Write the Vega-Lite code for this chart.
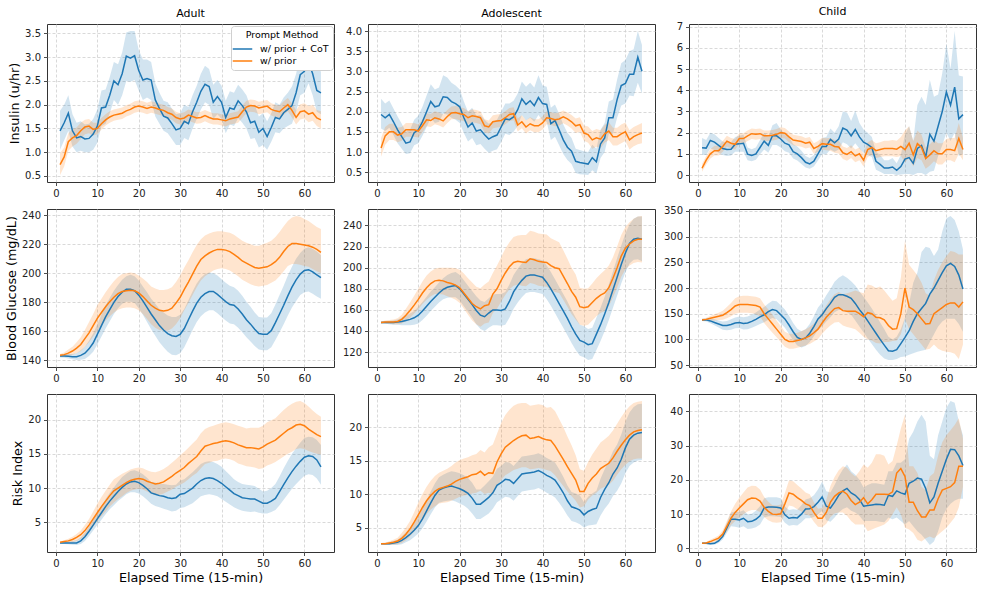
{
"$schema": "https://vega.github.io/schema/vega-lite/v6.json",
"padding": {"left": 4, "top": 5, "right": 5, "bottom": 5},
"config": {
 "font": "DejaVu Sans",
 "view": {"stroke": "#333333", "strokeWidth": 1},
 "axis": {"labelFont": "DejaVu Sans", "labelFontSize": 10, "labelColor": "#222222", "tickColor": "#222222", "tickSize": 3.5, "tickWidth": 0.8, "labelPadding": 3, "domain": false, "gridColor": "#cfcfcf", "gridDash": [3, 2], "gridWidth": 0.8, "titleFont": "DejaVu Sans", "titleFontSize": 12.75, "titleFontWeight": "normal", "titleColor": "#000000", "titlePadding": 3},
 "title": {"font": "DejaVu Sans", "fontSize": 11, "fontWeight": "normal", "color": "#000000", "offset": 5},
 "legend": {"orient": "none", "legendX": 184, "legendY": 2, "fillColor": "#ffffff", "strokeColor": "#d0d0d0", "cornerRadius": 3, "padding": 4, "titleFont": "DejaVu Sans", "titleFontSize": 9.5, "titleFontWeight": "normal", "titleColor": "#000000", "titleAnchor": "middle", "titleAlign": "center", "titlePadding": 2, "labelFont": "DejaVu Sans", "labelFontSize": 9.5, "labelColor": "#000000", "labelOffset": 10, "symbolType": "M-1.5,0L1.5,0", "symbolSize": 169, "symbolStrokeWidth": 1.5, "rowPadding": 0}
},
"datasets": {
"ai": [
{"t":1,"m1":1.45,"l1":1.05,"h1":1.87,"m2":0.74,"l2":0.52,"h2":0.98},
{"t":2,"m1":1.62,"l1":1.25,"h1":2.0,"m2":0.9,"l2":0.7,"h2":1.1},
{"t":3,"m1":1.82,"l1":1.45,"h1":2.2,"m2":1.22,"l2":1.03,"h2":1.4},
{"t":4,"m1":1.45,"l1":1.12,"h1":1.8,"m2":1.3,"l2":1.12,"h2":1.48},
{"t":5,"m1":1.3,"l1":1.0,"h1":1.62,"m2":1.35,"l2":1.18,"h2":1.52},
{"t":6,"m1":1.33,"l1":1.03,"h1":1.65,"m2":1.45,"l2":1.28,"h2":1.62},
{"t":7,"m1":1.28,"l1":1.0,"h1":1.58,"m2":1.53,"l2":1.38,"h2":1.68},
{"t":8,"m1":1.29,"l1":1.0,"h1":1.6,"m2":1.55,"l2":1.4,"h2":1.7},
{"t":9,"m1":1.38,"l1":1.05,"h1":1.7,"m2":1.48,"l2":1.35,"h2":1.62},
{"t":10,"m1":1.55,"l1":1.2,"h1":1.9,"m2":1.5,"l2":1.38,"h2":1.62},
{"t":11,"m1":1.93,"l1":1.55,"h1":2.3,"m2":1.6,"l2":1.48,"h2":1.72},
{"t":12,"m1":1.95,"l1":1.6,"h1":2.32,"m2":1.68,"l2":1.56,"h2":1.8},
{"t":13,"m1":2.2,"l1":1.82,"h1":2.58,"m2":1.74,"l2":1.62,"h2":1.86},
{"t":14,"m1":2.5,"l1":2.1,"h1":2.9,"m2":1.78,"l2":1.66,"h2":1.9},
{"t":15,"m1":2.42,"l1":2.0,"h1":2.85,"m2":1.8,"l2":1.68,"h2":1.92},
{"t":16,"m1":2.65,"l1":2.2,"h1":3.1,"m2":1.82,"l2":1.7,"h2":1.94},
{"t":17,"m1":3.02,"l1":2.5,"h1":3.52,"m2":1.87,"l2":1.75,"h2":1.99},
{"t":18,"m1":2.98,"l1":2.48,"h1":3.55,"m2":1.9,"l2":1.78,"h2":2.02},
{"t":19,"m1":3.03,"l1":2.52,"h1":3.55,"m2":1.95,"l2":1.83,"h2":2.07},
{"t":20,"m1":2.72,"l1":2.3,"h1":3.15,"m2":1.97,"l2":1.85,"h2":2.09},
{"t":21,"m1":2.52,"l1":2.1,"h1":2.95,"m2":1.95,"l2":1.83,"h2":2.07},
{"t":22,"m1":2.55,"l1":2.15,"h1":2.95,"m2":1.92,"l2":1.8,"h2":2.04},
{"t":23,"m1":2.52,"l1":2.1,"h1":2.9,"m2":1.95,"l2":1.83,"h2":2.07},
{"t":24,"m1":2.1,"l1":1.75,"h1":2.45,"m2":1.93,"l2":1.81,"h2":2.05},
{"t":25,"m1":1.92,"l1":1.6,"h1":2.25,"m2":1.9,"l2":1.78,"h2":2.02},
{"t":26,"m1":1.76,"l1":1.45,"h1":2.08,"m2":1.88,"l2":1.76,"h2":2.0},
{"t":27,"m1":1.72,"l1":1.4,"h1":2.05,"m2":1.83,"l2":1.71,"h2":1.95},
{"t":28,"m1":1.6,"l1":1.28,"h1":1.92,"m2":1.8,"l2":1.68,"h2":1.92},
{"t":29,"m1":1.47,"l1":1.15,"h1":1.8,"m2":1.73,"l2":1.61,"h2":1.85},
{"t":30,"m1":1.5,"l1":1.15,"h1":1.82,"m2":1.7,"l2":1.58,"h2":1.82},
{"t":31,"m1":1.65,"l1":1.3,"h1":2.0,"m2":1.72,"l2":1.6,"h2":1.84},
{"t":32,"m1":1.6,"l1":1.25,"h1":1.95,"m2":1.78,"l2":1.66,"h2":1.9},
{"t":33,"m1":1.85,"l1":1.5,"h1":2.2,"m2":1.75,"l2":1.63,"h2":1.87},
{"t":34,"m1":2.05,"l1":1.7,"h1":2.4,"m2":1.72,"l2":1.6,"h2":1.84},
{"t":35,"m1":2.28,"l1":1.9,"h1":2.65,"m2":1.73,"l2":1.61,"h2":1.85},
{"t":36,"m1":2.43,"l1":2.05,"h1":2.82,"m2":1.77,"l2":1.65,"h2":1.89},
{"t":37,"m1":2.38,"l1":2.0,"h1":2.75,"m2":1.73,"l2":1.61,"h2":1.85},
{"t":38,"m1":2.05,"l1":1.7,"h1":2.42,"m2":1.7,"l2":1.58,"h2":1.82},
{"t":39,"m1":2.17,"l1":1.8,"h1":2.52,"m2":1.7,"l2":1.58,"h2":1.82},
{"t":40,"m1":2.05,"l1":1.7,"h1":2.4,"m2":1.68,"l2":1.56,"h2":1.8},
{"t":41,"m1":1.73,"l1":1.4,"h1":2.08,"m2":1.66,"l2":1.54,"h2":1.78},
{"t":42,"m1":1.93,"l1":1.58,"h1":2.28,"m2":1.7,"l2":1.58,"h2":1.82},
{"t":43,"m1":1.9,"l1":1.55,"h1":2.25,"m2":1.72,"l2":1.6,"h2":1.84},
{"t":44,"m1":2.08,"l1":1.72,"h1":2.42,"m2":1.74,"l2":1.62,"h2":1.86},
{"t":45,"m1":1.98,"l1":1.62,"h1":2.32,"m2":1.85,"l2":1.72,"h2":1.98},
{"t":46,"m1":1.85,"l1":1.5,"h1":2.2,"m2":1.95,"l2":1.82,"h2":2.08},
{"t":47,"m1":1.62,"l1":1.28,"h1":1.95,"m2":1.98,"l2":1.85,"h2":2.11},
{"t":48,"m1":1.65,"l1":1.3,"h1":2.0,"m2":1.97,"l2":1.84,"h2":2.1},
{"t":49,"m1":1.42,"l1":1.1,"h1":1.75,"m2":1.93,"l2":1.8,"h2":2.06},
{"t":50,"m1":1.5,"l1":1.15,"h1":1.82,"m2":1.95,"l2":1.82,"h2":2.08},
{"t":51,"m1":1.33,"l1":1.05,"h1":1.65,"m2":1.97,"l2":1.84,"h2":2.1},
{"t":52,"m1":1.52,"l1":1.22,"h1":1.82,"m2":1.9,"l2":1.77,"h2":2.03},
{"t":53,"m1":1.73,"l1":1.42,"h1":2.05,"m2":1.87,"l2":1.74,"h2":2.0},
{"t":54,"m1":1.7,"l1":1.4,"h1":2.0,"m2":1.85,"l2":1.72,"h2":1.98},
{"t":55,"m1":1.83,"l1":1.5,"h1":2.15,"m2":1.93,"l2":1.79,"h2":2.07},
{"t":56,"m1":1.9,"l1":1.55,"h1":2.25,"m2":2.0,"l2":1.86,"h2":2.14},
{"t":57,"m1":1.98,"l1":1.6,"h1":2.38,"m2":1.88,"l2":1.73,"h2":2.03},
{"t":58,"m1":2.25,"l1":1.85,"h1":2.65,"m2":1.73,"l2":1.58,"h2":1.88},
{"t":59,"m1":2.63,"l1":2.2,"h1":3.05,"m2":1.85,"l2":1.69,"h2":2.01},
{"t":60,"m1":2.7,"l1":2.25,"h1":3.15,"m2":1.87,"l2":1.71,"h2":2.03},
{"t":61,"m1":2.9,"l1":2.45,"h1":3.35,"m2":1.8,"l2":1.63,"h2":1.97},
{"t":62,"m1":2.65,"l1":2.2,"h1":3.1,"m2":1.83,"l2":1.66,"h2":2.0},
{"t":63,"m1":2.3,"l1":1.85,"h1":2.75,"m2":1.72,"l2":1.55,"h2":1.89},
{"t":64,"m1":2.25,"l1":1.8,"h1":2.7,"m2":1.68,"l2":1.5,"h2":1.86}
],
"di": [
{"t":1,"m1":1.93,"l1":1.58,"h1":2.32,"m2":1.1,"l2":0.88,"h2":1.35},
{"t":2,"m1":1.85,"l1":1.52,"h1":2.2,"m2":1.4,"l2":1.18,"h2":1.62},
{"t":3,"m1":1.93,"l1":1.6,"h1":2.28,"m2":1.5,"l2":1.3,"h2":1.7},
{"t":4,"m1":1.75,"l1":1.42,"h1":2.08,"m2":1.5,"l2":1.3,"h2":1.7},
{"t":5,"m1":1.55,"l1":1.22,"h1":1.88,"m2":1.42,"l2":1.24,"h2":1.6},
{"t":6,"m1":1.38,"l1":1.08,"h1":1.7,"m2":1.45,"l2":1.28,"h2":1.62},
{"t":7,"m1":1.22,"l1":0.95,"h1":1.5,"m2":1.55,"l2":1.38,"h2":1.72},
{"t":8,"m1":1.25,"l1":0.97,"h1":1.55,"m2":1.55,"l2":1.38,"h2":1.72},
{"t":9,"m1":1.48,"l1":1.17,"h1":1.8,"m2":1.55,"l2":1.38,"h2":1.72},
{"t":10,"m1":1.55,"l1":1.22,"h1":1.9,"m2":1.52,"l2":1.36,"h2":1.68},
{"t":11,"m1":1.75,"l1":1.4,"h1":2.12,"m2":1.65,"l2":1.49,"h2":1.81},
{"t":12,"m1":2.0,"l1":1.62,"h1":2.4,"m2":1.8,"l2":1.64,"h2":1.96},
{"t":13,"m1":2.25,"l1":1.85,"h1":2.68,"m2":1.78,"l2":1.62,"h2":1.94},
{"t":14,"m1":2.12,"l1":1.72,"h1":2.55,"m2":1.85,"l2":1.69,"h2":2.01},
{"t":15,"m1":2.15,"l1":1.75,"h1":2.6,"m2":1.82,"l2":1.66,"h2":1.98},
{"t":16,"m1":2.37,"l1":1.95,"h1":2.9,"m2":1.77,"l2":1.61,"h2":1.93},
{"t":17,"m1":2.35,"l1":1.93,"h1":2.85,"m2":1.88,"l2":1.72,"h2":2.04},
{"t":18,"m1":2.25,"l1":1.85,"h1":2.72,"m2":1.97,"l2":1.81,"h2":2.13},
{"t":19,"m1":2.2,"l1":1.8,"h1":2.65,"m2":1.98,"l2":1.82,"h2":2.14},
{"t":20,"m1":2.12,"l1":1.72,"h1":2.55,"m2":1.95,"l2":1.79,"h2":2.11},
{"t":21,"m1":1.85,"l1":1.47,"h1":2.25,"m2":1.93,"l2":1.77,"h2":2.09},
{"t":22,"m1":1.62,"l1":1.26,"h1":2.0,"m2":1.85,"l2":1.69,"h2":2.01},
{"t":23,"m1":1.72,"l1":1.35,"h1":2.1,"m2":1.9,"l2":1.74,"h2":2.06},
{"t":24,"m1":1.52,"l1":1.17,"h1":1.9,"m2":1.88,"l2":1.72,"h2":2.04},
{"t":25,"m1":1.55,"l1":1.2,"h1":1.92,"m2":1.85,"l2":1.69,"h2":2.01},
{"t":26,"m1":1.43,"l1":1.08,"h1":1.8,"m2":1.65,"l2":1.49,"h2":1.81},
{"t":27,"m1":1.32,"l1":0.98,"h1":1.7,"m2":1.62,"l2":1.46,"h2":1.78},
{"t":28,"m1":1.38,"l1":1.03,"h1":1.75,"m2":1.75,"l2":1.59,"h2":1.91},
{"t":29,"m1":1.42,"l1":1.07,"h1":1.8,"m2":1.77,"l2":1.61,"h2":1.93},
{"t":30,"m1":1.62,"l1":1.25,"h1":2.0,"m2":1.78,"l2":1.62,"h2":1.94},
{"t":31,"m1":1.82,"l1":1.45,"h1":2.2,"m2":1.85,"l2":1.69,"h2":2.01},
{"t":32,"m1":1.8,"l1":1.42,"h1":2.2,"m2":1.93,"l2":1.77,"h2":2.09},
{"t":33,"m1":1.87,"l1":1.5,"h1":2.27,"m2":1.95,"l2":1.79,"h2":2.11},
{"t":34,"m1":2.05,"l1":1.65,"h1":2.45,"m2":1.67,"l2":1.51,"h2":1.83},
{"t":35,"m1":2.32,"l1":1.92,"h1":2.75,"m2":1.75,"l2":1.59,"h2":1.91},
{"t":36,"m1":2.18,"l1":1.78,"h1":2.62,"m2":1.62,"l2":1.46,"h2":1.78},
{"t":37,"m1":2.27,"l1":1.85,"h1":2.72,"m2":1.7,"l2":1.54,"h2":1.86},
{"t":38,"m1":2.15,"l1":1.75,"h1":2.6,"m2":1.65,"l2":1.49,"h2":1.81},
{"t":39,"m1":2.35,"l1":1.92,"h1":2.9,"m2":1.65,"l2":1.49,"h2":1.81},
{"t":40,"m1":2.2,"l1":1.78,"h1":2.65,"m2":1.72,"l2":1.56,"h2":1.88},
{"t":41,"m1":2.18,"l1":1.75,"h1":2.62,"m2":1.85,"l2":1.69,"h2":2.01},
{"t":42,"m1":1.7,"l1":1.3,"h1":2.1,"m2":1.83,"l2":1.67,"h2":1.99},
{"t":43,"m1":1.78,"l1":1.38,"h1":2.18,"m2":1.8,"l2":1.64,"h2":1.96},
{"t":44,"m1":1.55,"l1":1.17,"h1":1.95,"m2":1.82,"l2":1.66,"h2":1.98},
{"t":45,"m1":1.3,"l1":0.95,"h1":1.68,"m2":1.87,"l2":1.71,"h2":2.03},
{"t":46,"m1":1.12,"l1":0.8,"h1":1.48,"m2":1.82,"l2":1.66,"h2":1.98},
{"t":47,"m1":1.02,"l1":0.7,"h1":1.35,"m2":1.75,"l2":1.58,"h2":1.92},
{"t":48,"m1":0.77,"l1":0.48,"h1":1.08,"m2":1.65,"l2":1.47,"h2":1.83},
{"t":49,"m1":0.74,"l1":0.45,"h1":1.05,"m2":1.68,"l2":1.5,"h2":1.86},
{"t":50,"m1":0.72,"l1":0.44,"h1":1.02,"m2":1.47,"l2":1.28,"h2":1.66},
{"t":51,"m1":0.7,"l1":0.43,"h1":1.0,"m2":1.43,"l2":1.23,"h2":1.63},
{"t":52,"m1":0.86,"l1":0.55,"h1":1.18,"m2":1.3,"l2":1.08,"h2":1.52},
{"t":53,"m1":0.76,"l1":0.47,"h1":1.08,"m2":1.35,"l2":1.13,"h2":1.57},
{"t":54,"m1":1.2,"l1":0.85,"h1":1.55,"m2":1.32,"l2":1.1,"h2":1.54},
{"t":55,"m1":1.35,"l1":1.0,"h1":1.72,"m2":1.45,"l2":1.23,"h2":1.67},
{"t":56,"m1":1.85,"l1":1.45,"h1":2.25,"m2":1.52,"l2":1.3,"h2":1.74},
{"t":57,"m1":1.85,"l1":1.45,"h1":2.3,"m2":1.38,"l2":1.16,"h2":1.6},
{"t":58,"m1":2.3,"l1":1.85,"h1":2.8,"m2":1.38,"l2":1.16,"h2":1.6},
{"t":59,"m1":2.65,"l1":2.15,"h1":3.2,"m2":1.45,"l2":1.22,"h2":1.68},
{"t":60,"m1":2.7,"l1":2.2,"h1":3.28,"m2":1.5,"l2":1.27,"h2":1.73},
{"t":61,"m1":2.93,"l1":2.4,"h1":3.5,"m2":1.3,"l2":1.06,"h2":1.54},
{"t":62,"m1":2.93,"l1":2.38,"h1":3.55,"m2":1.38,"l2":1.14,"h2":1.62},
{"t":63,"m1":3.35,"l1":2.72,"h1":4.0,"m2":1.43,"l2":1.19,"h2":1.67},
{"t":64,"m1":3.0,"l1":2.45,"h1":3.65,"m2":1.47,"l2":1.22,"h2":1.72}
],
"ci": [
{"t":1,"m1":1.29,"l1":0.95,"h1":1.75,"m2":0.32,"l2":0.15,"h2":0.52},
{"t":2,"m1":1.27,"l1":0.95,"h1":1.65,"m2":0.7,"l2":0.5,"h2":0.9},
{"t":3,"m1":1.63,"l1":1.25,"h1":2.0,"m2":1.0,"l2":0.78,"h2":1.22},
{"t":4,"m1":1.55,"l1":1.18,"h1":1.92,"m2":1.15,"l2":0.92,"h2":1.38},
{"t":5,"m1":1.4,"l1":1.05,"h1":1.75,"m2":1.15,"l2":0.92,"h2":1.38},
{"t":6,"m1":1.25,"l1":0.95,"h1":1.58,"m2":1.35,"l2":1.1,"h2":1.6},
{"t":7,"m1":1.2,"l1":0.9,"h1":1.52,"m2":1.6,"l2":1.35,"h2":1.85},
{"t":8,"m1":1.22,"l1":0.92,"h1":1.55,"m2":1.5,"l2":1.25,"h2":1.75},
{"t":9,"m1":1.45,"l1":1.1,"h1":1.8,"m2":1.45,"l2":1.2,"h2":1.7},
{"t":10,"m1":1.47,"l1":1.1,"h1":1.85,"m2":1.72,"l2":1.47,"h2":1.97},
{"t":11,"m1":1.5,"l1":1.1,"h1":1.9,"m2":1.72,"l2":1.47,"h2":1.97},
{"t":12,"m1":0.98,"l1":0.7,"h1":1.3,"m2":1.85,"l2":1.6,"h2":2.1},
{"t":13,"m1":0.92,"l1":0.65,"h1":1.22,"m2":1.95,"l2":1.7,"h2":2.2},
{"t":14,"m1":1.0,"l1":0.72,"h1":1.3,"m2":1.92,"l2":1.67,"h2":2.17},
{"t":15,"m1":1.3,"l1":0.98,"h1":1.65,"m2":1.95,"l2":1.7,"h2":2.2},
{"t":16,"m1":1.6,"l1":1.2,"h1":2.0,"m2":1.85,"l2":1.6,"h2":2.1},
{"t":17,"m1":1.4,"l1":1.05,"h1":1.8,"m2":1.85,"l2":1.6,"h2":2.1},
{"t":18,"m1":1.85,"l1":1.42,"h1":2.35,"m2":1.88,"l2":1.63,"h2":2.13},
{"t":19,"m1":1.85,"l1":1.42,"h1":2.45,"m2":1.92,"l2":1.67,"h2":2.17},
{"t":20,"m1":1.7,"l1":1.3,"h1":2.15,"m2":2.0,"l2":1.75,"h2":2.25},
{"t":21,"m1":1.5,"l1":1.12,"h1":1.92,"m2":1.97,"l2":1.72,"h2":2.22},
{"t":22,"m1":1.42,"l1":1.05,"h1":1.82,"m2":1.8,"l2":1.55,"h2":2.05},
{"t":23,"m1":1.1,"l1":0.78,"h1":1.45,"m2":1.65,"l2":1.4,"h2":1.9},
{"t":24,"m1":1.0,"l1":0.68,"h1":1.35,"m2":1.62,"l2":1.37,"h2":1.87},
{"t":25,"m1":0.82,"l1":0.52,"h1":1.15,"m2":1.58,"l2":1.33,"h2":1.83},
{"t":26,"m1":0.6,"l1":0.35,"h1":0.9,"m2":1.5,"l2":1.25,"h2":1.75},
{"t":27,"m1":0.52,"l1":0.3,"h1":0.8,"m2":1.55,"l2":1.3,"h2":1.8},
{"t":28,"m1":0.65,"l1":0.4,"h1":0.95,"m2":1.25,"l2":1.0,"h2":1.5},
{"t":29,"m1":1.0,"l1":0.68,"h1":1.35,"m2":1.35,"l2":1.1,"h2":1.6},
{"t":30,"m1":1.35,"l1":0.98,"h1":1.75,"m2":1.48,"l2":1.2,"h2":1.76},
{"t":31,"m1":1.35,"l1":0.98,"h1":1.8,"m2":1.45,"l2":1.17,"h2":1.73},
{"t":32,"m1":1.68,"l1":1.2,"h1":2.2,"m2":1.45,"l2":1.15,"h2":1.75},
{"t":33,"m1":1.52,"l1":1.1,"h1":2.0,"m2":1.35,"l2":1.05,"h2":1.65},
{"t":34,"m1":1.7,"l1":1.2,"h1":2.3,"m2":1.32,"l2":1.02,"h2":1.62},
{"t":35,"m1":2.22,"l1":1.55,"h1":3.0,"m2":1.05,"l2":0.75,"h2":1.35},
{"t":36,"m1":2.12,"l1":1.45,"h1":2.95,"m2":0.97,"l2":0.67,"h2":1.27},
{"t":37,"m1":1.85,"l1":1.25,"h1":2.55,"m2":1.1,"l2":0.8,"h2":1.4},
{"t":38,"m1":2.15,"l1":1.5,"h1":3.05,"m2":0.9,"l2":0.6,"h2":1.2},
{"t":39,"m1":1.8,"l1":1.25,"h1":2.45,"m2":1.0,"l2":0.7,"h2":1.3},
{"t":40,"m1":1.55,"l1":1.05,"h1":2.15,"m2":0.7,"l2":0.4,"h2":1.0},
{"t":41,"m1":1.45,"l1":0.95,"h1":2.0,"m2":1.2,"l2":0.85,"h2":1.55},
{"t":42,"m1":1.3,"l1":0.85,"h1":1.8,"m2":1.3,"l2":0.95,"h2":1.65},
{"t":43,"m1":0.65,"l1":0.25,"h1":1.1,"m2":1.15,"l2":0.8,"h2":1.5},
{"t":44,"m1":0.5,"l1":0.15,"h1":0.95,"m2":1.2,"l2":0.85,"h2":1.55},
{"t":45,"m1":0.33,"l1":0.05,"h1":0.7,"m2":1.25,"l2":0.88,"h2":1.62},
{"t":46,"m1":0.33,"l1":0.05,"h1":0.7,"m2":1.25,"l2":0.88,"h2":1.62},
{"t":47,"m1":0.38,"l1":0.05,"h1":0.8,"m2":1.25,"l2":0.88,"h2":1.65},
{"t":48,"m1":0.22,"l1":0.0,"h1":0.55,"m2":1.22,"l2":0.85,"h2":1.62},
{"t":49,"m1":0.4,"l1":0.02,"h1":0.95,"m2":1.35,"l2":0.9,"h2":1.8},
{"t":50,"m1":0.75,"l1":0.05,"h1":1.9,"m2":1.2,"l2":0.6,"h2":2.1},
{"t":51,"m1":0.82,"l1":0.05,"h1":2.3,"m2":1.5,"l2":0.8,"h2":2.3},
{"t":52,"m1":0.55,"l1":0.0,"h1":1.6,"m2":0.95,"l2":0.4,"h2":1.6},
{"t":53,"m1":1.25,"l1":0.1,"h1":3.3,"m2":1.48,"l2":0.8,"h2":2.1},
{"t":54,"m1":1.4,"l1":0.1,"h1":3.7,"m2":1.3,"l2":0.7,"h2":1.9},
{"t":55,"m1":0.85,"l1":0.0,"h1":3.3,"m2":0.78,"l2":0.3,"h2":1.3},
{"t":56,"m1":1.92,"l1":0.15,"h1":4.5,"m2":0.95,"l2":0.45,"h2":1.45},
{"t":57,"m1":1.6,"l1":0.2,"h1":3.7,"m2":1.15,"l2":0.65,"h2":1.65},
{"t":58,"m1":2.3,"l1":0.9,"h1":3.8,"m2":1.0,"l2":0.5,"h2":1.5},
{"t":59,"m1":3.0,"l1":1.4,"h1":4.8,"m2":1.0,"l2":0.5,"h2":1.5},
{"t":60,"m1":3.92,"l1":2.0,"h1":6.2,"m2":1.2,"l2":0.7,"h2":1.7},
{"t":61,"m1":3.3,"l1":1.6,"h1":5.0,"m2":1.2,"l2":0.7,"h2":1.75},
{"t":62,"m1":4.15,"l1":2.0,"h1":6.8,"m2":1.15,"l2":0.6,"h2":1.75},
{"t":63,"m1":2.65,"l1":0.9,"h1":4.7,"m2":1.72,"l2":1.0,"h2":2.45},
{"t":64,"m1":2.85,"l1":1.0,"h1":4.65,"m2":1.2,"l2":0.7,"h2":1.75}
],
"ab": [
{"t":1,"m1":143,"l1":142,"h1":144,"m2":143.5,"l2":142.5,"h2":144.5},
{"t":2,"m1":143,"l1":141.8,"h1":144.3,"m2":144,"l2":142.5,"h2":145.5},
{"t":3,"m1":142.8,"l1":141.3,"h1":144.5,"m2":145,"l2":143,"h2":147.5},
{"t":4,"m1":142.5,"l1":140.8,"h1":144.5,"m2":146.5,"l2":144,"h2":149.5},
{"t":5,"m1":142.5,"l1":140.3,"h1":145,"m2":148.5,"l2":145,"h2":152.5},
{"t":6,"m1":143.5,"l1":140.5,"h1":147,"m2":151,"l2":146.5,"h2":156},
{"t":7,"m1":145,"l1":141,"h1":149.5,"m2":155,"l2":149.5,"h2":161},
{"t":8,"m1":148,"l1":143,"h1":153.5,"m2":159,"l2":152.5,"h2":166.5},
{"t":9,"m1":152,"l1":146,"h1":158.5,"m2":164,"l2":156.5,"h2":172},
{"t":10,"m1":158,"l1":151,"h1":165,"m2":169,"l2":160.5,"h2":178},
{"t":11,"m1":164,"l1":156.5,"h1":171.5,"m2":173,"l2":164,"h2":182.5},
{"t":12,"m1":170,"l1":162,"h1":178,"m2":177,"l2":167.5,"h2":187},
{"t":13,"m1":175,"l1":167,"h1":183,"m2":180.5,"l2":170.5,"h2":191},
{"t":14,"m1":180,"l1":172,"h1":188,"m2":183.5,"l2":173,"h2":194.5},
{"t":15,"m1":184,"l1":176,"h1":192,"m2":186,"l2":175,"h2":197.5},
{"t":16,"m1":187,"l1":179,"h1":195.5,"m2":187.5,"l2":176,"h2":199.5},
{"t":17,"m1":189,"l1":180.5,"h1":198,"m2":188,"l2":176.5,"h2":200},
{"t":18,"m1":189,"l1":180.5,"h1":199,"m2":188.3,"l2":176.5,"h2":200.5},
{"t":19,"m1":188,"l1":179.5,"h1":198,"m2":188,"l2":176,"h2":200},
{"t":20,"m1":185,"l1":176,"h1":195,"m2":186.5,"l2":174.5,"h2":198.5},
{"t":21,"m1":181,"l1":171.5,"h1":191,"m2":184,"l2":172,"h2":196.5},
{"t":22,"m1":176.5,"l1":166.5,"h1":187,"m2":181,"l2":168.5,"h2":194},
{"t":23,"m1":172,"l1":161.5,"h1":182.5,"m2":178,"l2":165,"h2":191},
{"t":24,"m1":168,"l1":157,"h1":179,"m2":176,"l2":162.5,"h2":189.5},
{"t":25,"m1":164,"l1":152.5,"h1":175.5,"m2":174.5,"l2":161,"h2":188.5},
{"t":26,"m1":161,"l1":149,"h1":173,"m2":174,"l2":160.5,"h2":188.5},
{"t":27,"m1":158.5,"l1":146,"h1":171,"m2":174.5,"l2":160.5,"h2":189},
{"t":28,"m1":157,"l1":144,"h1":170,"m2":176,"l2":162,"h2":190.5},
{"t":29,"m1":156.5,"l1":143.5,"h1":170,"m2":179.5,"l2":165,"h2":194},
{"t":30,"m1":158,"l1":145,"h1":171.5,"m2":183.5,"l2":169,"h2":198.5},
{"t":31,"m1":162,"l1":149,"h1":175.5,"m2":189,"l2":174.5,"h2":204},
{"t":32,"m1":168,"l1":155,"h1":181.5,"m2":194,"l2":179.5,"h2":209},
{"t":33,"m1":174,"l1":161,"h1":187.5,"m2":199.5,"l2":185,"h2":214.5},
{"t":34,"m1":179.5,"l1":166.5,"h1":193,"m2":205,"l2":190.5,"h2":219.5},
{"t":35,"m1":183.5,"l1":170.5,"h1":197,"m2":209.5,"l2":195,"h2":223.5},
{"t":36,"m1":186,"l1":173,"h1":199.5,"m2":212,"l2":198,"h2":226},
{"t":37,"m1":187.5,"l1":174.5,"h1":200.5,"m2":214,"l2":200,"h2":227.5},
{"t":38,"m1":187.5,"l1":174.5,"h1":200,"m2":215.5,"l2":202,"h2":228.5},
{"t":39,"m1":185.5,"l1":172.5,"h1":198.5,"m2":216.5,"l2":203,"h2":229},
{"t":40,"m1":183,"l1":170,"h1":196,"m2":216.5,"l2":203.5,"h2":229},
{"t":41,"m1":180.5,"l1":167.5,"h1":193.5,"m2":216,"l2":203,"h2":228.5},
{"t":42,"m1":178.5,"l1":165.5,"h1":191.5,"m2":215,"l2":202,"h2":228},
{"t":43,"m1":178,"l1":165,"h1":190.5,"m2":213,"l2":200,"h2":226.5},
{"t":44,"m1":175.5,"l1":162.5,"h1":188,"m2":211,"l2":198,"h2":224.5},
{"t":45,"m1":172,"l1":159.5,"h1":184.5,"m2":208.5,"l2":195.5,"h2":222.5},
{"t":46,"m1":168,"l1":156,"h1":180.5,"m2":207,"l2":194,"h2":221},
{"t":47,"m1":165,"l1":153,"h1":177,"m2":205.5,"l2":192.5,"h2":220},
{"t":48,"m1":161.5,"l1":150,"h1":173,"m2":204,"l2":191.5,"h2":219},
{"t":49,"m1":158.5,"l1":147.5,"h1":170,"m2":203.5,"l2":191,"h2":219},
{"t":50,"m1":158,"l1":147,"h1":169.5,"m2":204,"l2":191.5,"h2":220},
{"t":51,"m1":158,"l1":147,"h1":169.5,"m2":204.5,"l2":192,"h2":221},
{"t":52,"m1":160.5,"l1":149,"h1":172.5,"m2":206,"l2":193.5,"h2":222.5},
{"t":53,"m1":166,"l1":154,"h1":178.5,"m2":208,"l2":195,"h2":225},
{"t":54,"m1":172,"l1":159.5,"h1":185,"m2":211,"l2":198,"h2":228.5},
{"t":55,"m1":178,"l1":165,"h1":191.5,"m2":215,"l2":201.5,"h2":232.5},
{"t":56,"m1":184.5,"l1":171,"h1":198.5,"m2":218.5,"l2":205,"h2":236},
{"t":57,"m1":190.5,"l1":176.5,"h1":204.5,"m2":220.5,"l2":206.5,"h2":238.5},
{"t":58,"m1":195.5,"l1":181,"h1":210,"m2":220.5,"l2":206.5,"h2":239.5},
{"t":59,"m1":199.5,"l1":185,"h1":214,"m2":220,"l2":206,"h2":239},
{"t":60,"m1":202,"l1":187,"h1":217,"m2":219.5,"l2":205,"h2":237.5},
{"t":61,"m1":202.5,"l1":187.5,"h1":218,"m2":219,"l2":204.5,"h2":236},
{"t":62,"m1":201,"l1":186,"h1":217,"m2":218,"l2":203,"h2":234},
{"t":63,"m1":199,"l1":184,"h1":215,"m2":216.5,"l2":201.5,"h2":232},
{"t":64,"m1":197,"l1":182.5,"h1":212.5,"m2":214.5,"l2":200,"h2":230.5}
],
"db": [
{"t":1,"m1":148,"l1":147,"h1":149,"m2":148,"l2":147,"h2":149},
{"t":2,"m1":148,"l1":146.8,"h1":149.2,"m2":148.5,"l2":147,"h2":150},
{"t":3,"m1":148,"l1":146.5,"h1":149.5,"m2":148.5,"l2":146.8,"h2":150.5},
{"t":4,"m1":148,"l1":146,"h1":150,"m2":148.5,"l2":146.5,"h2":151},
{"t":5,"m1":148.5,"l1":146,"h1":151,"m2":149,"l2":146.5,"h2":152},
{"t":6,"m1":149,"l1":145.5,"h1":152.5,"m2":151,"l2":147,"h2":155.5},
{"t":7,"m1":150,"l1":145.5,"h1":154.5,"m2":155,"l2":149.5,"h2":161},
{"t":8,"m1":151,"l1":145.5,"h1":156.5,"m2":159.5,"l2":152.5,"h2":167},
{"t":9,"m1":152.5,"l1":146,"h1":159,"m2":164.5,"l2":156.5,"h2":173.5},
{"t":10,"m1":155,"l1":147,"h1":163,"m2":170,"l2":160.5,"h2":180},
{"t":11,"m1":159,"l1":150.5,"h1":167.5,"m2":176,"l2":165.5,"h2":187},
{"t":12,"m1":163.5,"l1":154.5,"h1":172.5,"m2":181,"l2":169.5,"h2":192.5},
{"t":13,"m1":168,"l1":159,"h1":177.5,"m2":185,"l2":173,"h2":196.5},
{"t":14,"m1":172,"l1":163,"h1":181.5,"m2":187.5,"l2":175,"h2":199},
{"t":15,"m1":176,"l1":167,"h1":186,"m2":188,"l2":175,"h2":200},
{"t":16,"m1":179.5,"l1":170,"h1":190,"m2":187.5,"l2":174.5,"h2":200},
{"t":17,"m1":181.5,"l1":171.5,"h1":193,"m2":186,"l2":173,"h2":200},
{"t":18,"m1":182.5,"l1":172,"h1":195,"m2":185,"l2":171.5,"h2":200},
{"t":19,"m1":183,"l1":172,"h1":196,"m2":183.5,"l2":169.5,"h2":199.5},
{"t":20,"m1":180,"l1":169,"h1":193,"m2":181,"l2":166.5,"h2":198},
{"t":21,"m1":175,"l1":163.5,"h1":188,"m2":176,"l2":161,"h2":194.5},
{"t":22,"m1":170,"l1":158,"h1":183,"m2":171,"l2":155.5,"h2":190},
{"t":23,"m1":165,"l1":152.5,"h1":178,"m2":166,"l2":150,"h2":186},
{"t":24,"m1":159.5,"l1":146.5,"h1":173,"m2":163,"l2":146.5,"h2":182},
{"t":25,"m1":155,"l1":142,"h1":169,"m2":161,"l2":144,"h2":180.5},
{"t":26,"m1":153.5,"l1":140,"h1":167.5,"m2":164,"l2":147,"h2":184},
{"t":27,"m1":157,"l1":143,"h1":171,"m2":165,"l2":148,"h2":187},
{"t":28,"m1":160,"l1":145.5,"h1":174.5,"m2":175,"l2":157,"h2":195},
{"t":29,"m1":160,"l1":145.5,"h1":175,"m2":180,"l2":161,"h2":202},
{"t":30,"m1":159.5,"l1":145,"h1":175,"m2":188,"l2":168,"h2":210},
{"t":31,"m1":161,"l1":146,"h1":177,"m2":195,"l2":174,"h2":218},
{"t":32,"m1":168,"l1":152.5,"h1":184,"m2":201,"l2":179.5,"h2":224},
{"t":33,"m1":177,"l1":161,"h1":193,"m2":205,"l2":183,"h2":229},
{"t":34,"m1":183,"l1":167,"h1":199,"m2":206,"l2":184,"h2":230.5},
{"t":35,"m1":188,"l1":172,"h1":204,"m2":205.5,"l2":183,"h2":231},
{"t":36,"m1":192,"l1":176,"h1":208,"m2":205,"l2":182.5,"h2":231},
{"t":37,"m1":193,"l1":177,"h1":209,"m2":208.5,"l2":185.5,"h2":235},
{"t":38,"m1":193,"l1":177,"h1":209,"m2":207.5,"l2":184.5,"h2":234},
{"t":39,"m1":192,"l1":176,"h1":208,"m2":206,"l2":183,"h2":232.5},
{"t":40,"m1":191,"l1":175,"h1":207,"m2":205.5,"l2":182.5,"h2":232},
{"t":41,"m1":186,"l1":170,"h1":202,"m2":205,"l2":182,"h2":231.5},
{"t":42,"m1":180,"l1":164,"h1":196,"m2":202,"l2":179,"h2":228},
{"t":43,"m1":173,"l1":157,"h1":189,"m2":200,"l2":177,"h2":226},
{"t":44,"m1":166,"l1":150,"h1":182,"m2":199,"l2":176,"h2":224},
{"t":45,"m1":159,"l1":143,"h1":175,"m2":192,"l2":169.5,"h2":216.5},
{"t":46,"m1":152,"l1":136,"h1":168,"m2":185,"l2":163,"h2":208.5},
{"t":47,"m1":144,"l1":128.5,"h1":160,"m2":177.5,"l2":156,"h2":200},
{"t":48,"m1":137,"l1":122,"h1":152.5,"m2":172,"l2":151,"h2":193.5},
{"t":49,"m1":131,"l1":116.5,"h1":146,"m2":163,"l2":146,"h2":181},
{"t":50,"m1":129.5,"l1":115,"h1":144.5,"m2":162,"l2":145,"h2":180},
{"t":51,"m1":127,"l1":112.5,"h1":142,"m2":163,"l2":146,"h2":180.5},
{"t":52,"m1":128,"l1":113.5,"h1":143,"m2":167,"l2":150,"h2":185},
{"t":53,"m1":137,"l1":122,"h1":152.5,"m2":171,"l2":154,"h2":190},
{"t":54,"m1":146,"l1":130.5,"h1":162,"m2":174,"l2":157,"h2":194},
{"t":55,"m1":156,"l1":140,"h1":172.5,"m2":176,"l2":159,"h2":197.5},
{"t":56,"m1":167,"l1":150.5,"h1":184,"m2":181,"l2":163.5,"h2":202},
{"t":57,"m1":179,"l1":162,"h1":196.5,"m2":190,"l2":172,"h2":210},
{"t":58,"m1":191,"l1":173.5,"h1":209,"m2":200,"l2":181,"h2":220},
{"t":59,"m1":203,"l1":185,"h1":221,"m2":211,"l2":191.5,"h2":231},
{"t":60,"m1":214,"l1":195.5,"h1":232.5,"m2":218.5,"l2":198.5,"h2":238.5},
{"t":61,"m1":223,"l1":204,"h1":241,"m2":222.5,"l2":202,"h2":243},
{"t":62,"m1":227,"l1":207.5,"h1":246.5,"m2":225.5,"l2":204.5,"h2":246.5},
{"t":63,"m1":228,"l1":208,"h1":248.5,"m2":227,"l2":205.5,"h2":248.5},
{"t":64,"m1":227,"l1":206,"h1":248.5,"m2":227,"l2":205,"h2":249}
],
"cb": [
{"t":1,"m1":138,"l1":136,"h1":140,"m2":138,"l2":136,"h2":140},
{"t":2,"m1":138,"l1":135,"h1":141,"m2":139,"l2":136,"h2":142},
{"t":3,"m1":136,"l1":131.5,"h1":140.5,"m2":141,"l2":136.5,"h2":145.5},
{"t":4,"m1":133,"l1":127.5,"h1":139,"m2":143,"l2":137,"h2":149},
{"t":5,"m1":130,"l1":123,"h1":137,"m2":145,"l2":138,"h2":152},
{"t":6,"m1":127,"l1":119,"h1":135,"m2":147,"l2":138.5,"h2":156},
{"t":7,"m1":127,"l1":118,"h1":136,"m2":152,"l2":141,"h2":163},
{"t":8,"m1":129,"l1":119,"h1":139,"m2":158,"l2":145,"h2":171},
{"t":9,"m1":132,"l1":121.5,"h1":142.5,"m2":165,"l2":150,"h2":180},
{"t":10,"m1":133,"l1":122,"h1":144.5,"m2":168,"l2":152,"h2":184},
{"t":11,"m1":131,"l1":119.5,"h1":143,"m2":168,"l2":152,"h2":185},
{"t":12,"m1":132,"l1":120,"h1":144.5,"m2":168,"l2":152,"h2":185},
{"t":13,"m1":135,"l1":122.5,"h1":148,"m2":167,"l2":151,"h2":184},
{"t":14,"m1":139,"l1":126,"h1":152.5,"m2":166,"l2":149,"h2":183},
{"t":15,"m1":144,"l1":130,"h1":158,"m2":163,"l2":145,"h2":180},
{"t":16,"m1":148,"l1":133.5,"h1":163,"m2":150,"l2":132,"h2":168},
{"t":17,"m1":154,"l1":138.5,"h1":170,"m2":140,"l2":122,"h2":158},
{"t":18,"m1":158,"l1":141.5,"h1":175,"m2":130,"l2":113,"h2":148},
{"t":19,"m1":156,"l1":139,"h1":174,"m2":120,"l2":104,"h2":137},
{"t":20,"m1":148,"l1":131,"h1":166.5,"m2":110,"l2":95,"h2":126},
{"t":21,"m1":140,"l1":122.5,"h1":158,"m2":100,"l2":86,"h2":115},
{"t":22,"m1":128,"l1":110.5,"h1":146,"m2":96,"l2":82,"h2":111},
{"t":23,"m1":115,"l1":98.5,"h1":132,"m2":96,"l2":82,"h2":111},
{"t":24,"m1":104,"l1":88,"h1":121,"m2":98,"l2":84,"h2":113},
{"t":25,"m1":100,"l1":84.5,"h1":116,"m2":100,"l2":86,"h2":116},
{"t":26,"m1":103,"l1":87,"h1":120,"m2":103,"l2":88,"h2":120},
{"t":27,"m1":112,"l1":95,"h1":130,"m2":107,"l2":91,"h2":124},
{"t":28,"m1":125,"l1":106,"h1":145,"m2":113,"l2":96,"h2":131},
{"t":29,"m1":140,"l1":119,"h1":162,"m2":120,"l2":101,"h2":140},
{"t":30,"m1":148,"l1":125.5,"h1":172,"m2":132,"l2":111,"h2":153},
{"t":31,"m1":160,"l1":135,"h1":186,"m2":143,"l2":120,"h2":166},
{"t":32,"m1":170,"l1":143,"h1":198,"m2":152,"l2":127,"h2":178},
{"t":33,"m1":182,"l1":153,"h1":212,"m2":160,"l2":133,"h2":188},
{"t":34,"m1":187,"l1":157,"h1":220,"m2":162,"l2":134,"h2":192},
{"t":35,"m1":187,"l1":157,"h1":225,"m2":156,"l2":127,"h2":188},
{"t":36,"m1":184,"l1":153,"h1":220,"m2":155,"l2":124,"h2":190},
{"t":37,"m1":180,"l1":148,"h1":213,"m2":155,"l2":122,"h2":192},
{"t":38,"m1":170,"l1":137,"h1":205,"m2":155,"l2":120,"h2":195},
{"t":39,"m1":158,"l1":125,"h1":193,"m2":150,"l2":113,"h2":192},
{"t":40,"m1":148,"l1":114,"h1":183,"m2":144,"l2":105,"h2":190},
{"t":41,"m1":136,"l1":102,"h1":172,"m2":152,"l2":100,"h2":207},
{"t":42,"m1":124,"l1":91,"h1":160,"m2":150,"l2":98,"h2":205},
{"t":43,"m1":112,"l1":80,"h1":147,"m2":143,"l2":93,"h2":200},
{"t":44,"m1":100,"l1":70,"h1":133,"m2":142,"l2":92,"h2":203},
{"t":45,"m1":89,"l1":63,"h1":120,"m2":138,"l2":95,"h2":195},
{"t":46,"m1":78,"l1":60,"h1":105,"m2":127,"l2":95,"h2":185},
{"t":47,"m1":77,"l1":60,"h1":100,"m2":120,"l2":97,"h2":175},
{"t":48,"m1":80,"l1":62,"h1":105,"m2":121,"l2":98,"h2":180},
{"t":49,"m1":92,"l1":66,"h1":120,"m2":150,"l2":110,"h2":220},
{"t":50,"m1":104,"l1":67,"h1":142,"m2":200,"l2":140,"h2":292},
{"t":51,"m1":117,"l1":70,"h1":170,"m2":163,"l2":120,"h2":245},
{"t":52,"m1":135,"l1":73,"h1":210,"m2":158,"l2":110,"h2":235},
{"t":53,"m1":150,"l1":76,"h1":230,"m2":150,"l2":100,"h2":225},
{"t":54,"m1":160,"l1":78,"h1":270,"m2":140,"l2":90,"h2":210},
{"t":55,"m1":170,"l1":80,"h1":280,"m2":130,"l2":80,"h2":190},
{"t":56,"m1":188,"l1":95,"h1":278,"m2":131,"l2":82,"h2":185},
{"t":57,"m1":200,"l1":110,"h1":262,"m2":150,"l2":90,"h2":215},
{"t":58,"m1":215,"l1":125,"h1":275,"m2":156,"l2":82,"h2":235},
{"t":59,"m1":230,"l1":135,"h1":310,"m2":162,"l2":78,"h2":250},
{"t":60,"m1":243,"l1":140,"h1":335,"m2":168,"l2":76,"h2":262},
{"t":61,"m1":248,"l1":140,"h1":340,"m2":171,"l2":75,"h2":272},
{"t":62,"m1":242,"l1":140,"h1":332,"m2":171,"l2":72,"h2":270},
{"t":63,"m1":225,"l1":130,"h1":310,"m2":163,"l2":62,"h2":265},
{"t":64,"m1":198,"l1":115,"h1":275,"m2":173,"l2":90,"h2":265}
],
"ar": [
{"t":1,"m1":2.0,"l1":1.9,"h1":2.1,"m2":2.1,"l2":2.0,"h2":2.2},
{"t":2,"m1":2.0,"l1":1.85,"h1":2.15,"m2":2.2,"l2":2.0,"h2":2.4},
{"t":3,"m1":2.0,"l1":1.8,"h1":2.2,"m2":2.3,"l2":2.0,"h2":2.6},
{"t":4,"m1":2.0,"l1":1.75,"h1":2.3,"m2":2.5,"l2":2.1,"h2":2.9},
{"t":5,"m1":2.0,"l1":1.7,"h1":2.4,"m2":2.8,"l2":2.3,"h2":3.3},
{"t":6,"m1":2.3,"l1":1.85,"h1":2.8,"m2":3.2,"l2":2.6,"h2":3.8},
{"t":7,"m1":2.9,"l1":2.3,"h1":3.5,"m2":3.8,"l2":3.1,"h2":4.6},
{"t":8,"m1":3.7,"l1":3.0,"h1":4.4,"m2":4.6,"l2":3.7,"h2":5.5},
{"t":9,"m1":4.6,"l1":3.8,"h1":5.4,"m2":5.5,"l2":4.4,"h2":6.6},
{"t":10,"m1":5.5,"l1":4.6,"h1":6.4,"m2":6.4,"l2":5.2,"h2":7.7},
{"t":11,"m1":6.4,"l1":5.4,"h1":7.4,"m2":7.3,"l2":5.9,"h2":8.7},
{"t":12,"m1":7.3,"l1":6.2,"h1":8.4,"m2":8.1,"l2":6.6,"h2":9.6},
{"t":13,"m1":8.1,"l1":6.9,"h1":9.3,"m2":8.9,"l2":7.3,"h2":10.5},
{"t":14,"m1":8.8,"l1":7.5,"h1":10.1,"m2":9.6,"l2":7.9,"h2":11.3},
{"t":15,"m1":9.5,"l1":8.1,"h1":10.9,"m2":10.0,"l2":8.4,"h2":11.7},
{"t":16,"m1":10.1,"l1":8.6,"h1":11.6,"m2":10.4,"l2":8.8,"h2":12.1},
{"t":17,"m1":10.6,"l1":9.1,"h1":12.1,"m2":10.8,"l2":9.3,"h2":12.4},
{"t":18,"m1":10.9,"l1":9.4,"h1":12.5,"m2":11.1,"l2":9.6,"h2":12.7},
{"t":19,"m1":11.0,"l1":9.4,"h1":12.6,"m2":11.3,"l2":9.8,"h2":12.9},
{"t":20,"m1":10.8,"l1":9.2,"h1":12.4,"m2":11.4,"l2":9.9,"h2":13.0},
{"t":21,"m1":10.4,"l1":8.8,"h1":12.0,"m2":11.3,"l2":9.8,"h2":12.9},
{"t":22,"m1":9.9,"l1":8.3,"h1":11.5,"m2":11.0,"l2":9.5,"h2":12.6},
{"t":23,"m1":9.3,"l1":7.7,"h1":10.9,"m2":10.8,"l2":9.2,"h2":12.4},
{"t":24,"m1":9.1,"l1":7.4,"h1":10.8,"m2":10.6,"l2":9.0,"h2":12.3},
{"t":25,"m1":8.9,"l1":7.2,"h1":10.6,"m2":10.7,"l2":9.0,"h2":12.5},
{"t":26,"m1":8.8,"l1":7.0,"h1":10.6,"m2":10.9,"l2":9.2,"h2":12.8},
{"t":27,"m1":8.6,"l1":6.8,"h1":10.5,"m2":11.3,"l2":9.5,"h2":13.2},
{"t":28,"m1":8.5,"l1":6.6,"h1":10.4,"m2":11.7,"l2":9.8,"h2":13.7},
{"t":29,"m1":8.6,"l1":6.7,"h1":10.5,"m2":12.2,"l2":10.2,"h2":14.2},
{"t":30,"m1":9.1,"l1":7.1,"h1":11.1,"m2":12.6,"l2":10.5,"h2":14.8},
{"t":31,"m1":9.2,"l1":7.2,"h1":11.3,"m2":13.0,"l2":10.8,"h2":15.3},
{"t":32,"m1":9.6,"l1":7.5,"h1":11.8,"m2":13.6,"l2":11.3,"h2":15.9},
{"t":33,"m1":10.0,"l1":7.8,"h1":12.3,"m2":14.1,"l2":11.8,"h2":16.5},
{"t":34,"m1":10.6,"l1":8.3,"h1":12.9,"m2":14.6,"l2":12.2,"h2":17.1},
{"t":35,"m1":11.1,"l1":8.8,"h1":13.5,"m2":15.4,"l2":12.9,"h2":18.0},
{"t":36,"m1":11.4,"l1":9.0,"h1":13.8,"m2":16.1,"l2":13.5,"h2":18.6},
{"t":37,"m1":11.5,"l1":9.1,"h1":13.9,"m2":16.3,"l2":13.7,"h2":18.9},
{"t":38,"m1":11.4,"l1":9.0,"h1":13.8,"m2":16.5,"l2":13.9,"h2":19.1},
{"t":39,"m1":11.1,"l1":8.8,"h1":13.5,"m2":16.6,"l2":14.0,"h2":19.3},
{"t":40,"m1":10.7,"l1":8.4,"h1":13.1,"m2":16.8,"l2":14.2,"h2":19.5},
{"t":41,"m1":10.2,"l1":8.0,"h1":12.5,"m2":16.9,"l2":14.3,"h2":19.6},
{"t":42,"m1":9.7,"l1":7.6,"h1":11.9,"m2":16.8,"l2":14.2,"h2":19.5},
{"t":43,"m1":9.2,"l1":7.2,"h1":11.3,"m2":16.6,"l2":14.0,"h2":19.3},
{"t":44,"m1":8.9,"l1":6.9,"h1":10.9,"m2":16.3,"l2":13.6,"h2":19.1},
{"t":45,"m1":8.6,"l1":6.7,"h1":10.6,"m2":16.1,"l2":13.4,"h2":18.9},
{"t":46,"m1":8.5,"l1":6.6,"h1":10.5,"m2":15.9,"l2":13.2,"h2":18.7},
{"t":47,"m1":8.4,"l1":6.5,"h1":10.4,"m2":15.9,"l2":13.1,"h2":18.8},
{"t":48,"m1":8.4,"l1":6.6,"h1":10.3,"m2":15.8,"l2":13.0,"h2":18.8},
{"t":49,"m1":8.1,"l1":6.4,"h1":9.9,"m2":15.7,"l2":12.8,"h2":18.8},
{"t":50,"m1":7.8,"l1":6.3,"h1":9.5,"m2":16.0,"l2":12.9,"h2":19.1},
{"t":51,"m1":7.8,"l1":6.3,"h1":9.6,"m2":16.4,"l2":13.3,"h2":19.6},
{"t":52,"m1":8.1,"l1":6.5,"h1":10.0,"m2":16.7,"l2":13.5,"h2":19.9},
{"t":53,"m1":8.5,"l1":6.8,"h1":10.6,"m2":17.0,"l2":13.8,"h2":20.2},
{"t":54,"m1":9.5,"l1":7.5,"h1":11.7,"m2":17.5,"l2":14.2,"h2":20.8},
{"t":55,"m1":10.5,"l1":8.3,"h1":12.9,"m2":18.0,"l2":14.6,"h2":21.4},
{"t":56,"m1":11.5,"l1":9.1,"h1":14.0,"m2":18.5,"l2":15.0,"h2":21.9},
{"t":57,"m1":12.4,"l1":9.9,"h1":15.0,"m2":18.8,"l2":15.3,"h2":22.3},
{"t":58,"m1":13.2,"l1":10.6,"h1":15.8,"m2":19.2,"l2":15.7,"h2":22.6},
{"t":59,"m1":13.9,"l1":11.2,"h1":16.6,"m2":19.3,"l2":15.8,"h2":22.7},
{"t":60,"m1":14.5,"l1":11.8,"h1":17.3,"m2":19.1,"l2":15.7,"h2":22.4},
{"t":61,"m1":14.7,"l1":12.0,"h1":17.5,"m2":18.6,"l2":15.4,"h2":21.9},
{"t":62,"m1":14.6,"l1":11.9,"h1":17.4,"m2":18.2,"l2":15.2,"h2":21.3},
{"t":63,"m1":14.1,"l1":11.4,"h1":17.0,"m2":17.8,"l2":15.0,"h2":20.8},
{"t":64,"m1":13.1,"l1":10.5,"h1":16.3,"m2":17.5,"l2":14.9,"h2":20.4}
],
"dr": [
{"t":1,"m1":2.6,"l1":2.5,"h1":2.7,"m2":2.6,"l2":2.5,"h2":2.7},
{"t":2,"m1":2.6,"l1":2.45,"h1":2.75,"m2":2.6,"l2":2.45,"h2":2.75},
{"t":3,"m1":2.6,"l1":2.4,"h1":2.8,"m2":2.7,"l2":2.45,"h2":2.95},
{"t":4,"m1":2.7,"l1":2.4,"h1":3.0,"m2":2.8,"l2":2.45,"h2":3.2},
{"t":5,"m1":2.8,"l1":2.4,"h1":3.2,"m2":3.0,"l2":2.5,"h2":3.5},
{"t":6,"m1":3.1,"l1":2.5,"h1":3.7,"m2":3.4,"l2":2.7,"h2":4.2},
{"t":7,"m1":3.5,"l1":2.8,"h1":4.3,"m2":4.0,"l2":3.1,"h2":5.0},
{"t":8,"m1":4.0,"l1":3.1,"h1":4.9,"m2":4.8,"l2":3.7,"h2":6.0},
{"t":9,"m1":4.6,"l1":3.6,"h1":5.7,"m2":5.8,"l2":4.4,"h2":7.3},
{"t":10,"m1":5.3,"l1":4.1,"h1":6.6,"m2":6.9,"l2":5.2,"h2":8.7},
{"t":11,"m1":6.3,"l1":4.9,"h1":7.8,"m2":8.0,"l2":6.1,"h2":10.0},
{"t":12,"m1":7.5,"l1":5.9,"h1":9.1,"m2":9.0,"l2":7.0,"h2":11.1},
{"t":13,"m1":8.7,"l1":7.0,"h1":10.4,"m2":9.8,"l2":7.7,"h2":12.0},
{"t":14,"m1":9.8,"l1":8.0,"h1":11.6,"m2":10.4,"l2":8.2,"h2":12.7},
{"t":15,"m1":10.6,"l1":8.7,"h1":12.5,"m2":10.8,"l2":8.6,"h2":13.2},
{"t":16,"m1":10.9,"l1":8.9,"h1":12.9,"m2":11.0,"l2":8.7,"h2":13.5},
{"t":17,"m1":11.1,"l1":9.0,"h1":13.2,"m2":11.2,"l2":8.8,"h2":13.8},
{"t":18,"m1":11.2,"l1":9.1,"h1":13.4,"m2":11.5,"l2":9.0,"h2":14.2},
{"t":19,"m1":11.0,"l1":8.9,"h1":13.3,"m2":11.9,"l2":9.3,"h2":14.7},
{"t":20,"m1":10.8,"l1":8.6,"h1":13.1,"m2":12.2,"l2":9.6,"h2":15.1},
{"t":21,"m1":10.5,"l1":8.3,"h1":12.8,"m2":12.4,"l2":9.8,"h2":15.3},
{"t":22,"m1":10.1,"l1":7.8,"h1":12.4,"m2":12.6,"l2":9.9,"h2":15.5},
{"t":23,"m1":9.4,"l1":7.1,"h1":11.7,"m2":12.9,"l2":10.1,"h2":15.8},
{"t":24,"m1":8.5,"l1":6.3,"h1":10.7,"m2":13.0,"l2":10.2,"h2":16.0},
{"t":25,"m1":8.5,"l1":6.3,"h1":10.7,"m2":13.4,"l2":10.5,"h2":16.6},
{"t":26,"m1":9.0,"l1":6.7,"h1":11.3,"m2":12.8,"l2":10.0,"h2":16.2},
{"t":27,"m1":9.5,"l1":7.1,"h1":11.9,"m2":13.2,"l2":10.2,"h2":17.0},
{"t":28,"m1":10.2,"l1":7.8,"h1":12.6,"m2":13.1,"l2":10.0,"h2":17.4},
{"t":29,"m1":11.3,"l1":8.8,"h1":13.8,"m2":14.8,"l2":11.2,"h2":19.0},
{"t":30,"m1":11.7,"l1":9.2,"h1":14.2,"m2":16.0,"l2":12.1,"h2":20.6},
{"t":31,"m1":12.2,"l1":9.6,"h1":14.8,"m2":17.0,"l2":12.8,"h2":21.8},
{"t":32,"m1":12.1,"l1":9.5,"h1":14.7,"m2":17.5,"l2":13.2,"h2":22.6},
{"t":33,"m1":11.6,"l1":9.0,"h1":14.2,"m2":18.0,"l2":13.6,"h2":23.2},
{"t":34,"m1":12.3,"l1":9.7,"h1":14.9,"m2":18.4,"l2":13.8,"h2":23.5},
{"t":35,"m1":13.0,"l1":10.4,"h1":15.6,"m2":18.7,"l2":14.0,"h2":23.6},
{"t":36,"m1":13.1,"l1":10.5,"h1":15.7,"m2":18.8,"l2":14.0,"h2":23.6},
{"t":37,"m1":13.2,"l1":10.6,"h1":15.8,"m2":18.3,"l2":13.7,"h2":23.2},
{"t":38,"m1":13.3,"l1":10.7,"h1":15.9,"m2":18.4,"l2":13.8,"h2":23.3},
{"t":39,"m1":13.5,"l1":10.9,"h1":16.1,"m2":18.6,"l2":13.9,"h2":23.4},
{"t":40,"m1":13.2,"l1":10.6,"h1":15.8,"m2":18.3,"l2":13.8,"h2":23.3},
{"t":41,"m1":12.8,"l1":10.2,"h1":15.4,"m2":18.1,"l2":13.6,"h2":22.9},
{"t":42,"m1":12.5,"l1":9.9,"h1":15.1,"m2":18.0,"l2":13.4,"h2":23.0},
{"t":43,"m1":12.1,"l1":9.5,"h1":14.7,"m2":17.2,"l2":12.8,"h2":22.4},
{"t":44,"m1":11.2,"l1":8.7,"h1":13.7,"m2":16.2,"l2":12.0,"h2":21.2},
{"t":45,"m1":10.2,"l1":7.8,"h1":12.6,"m2":15.2,"l2":11.2,"h2":20.0},
{"t":46,"m1":9.0,"l1":6.8,"h1":11.3,"m2":14.1,"l2":10.4,"h2":18.6},
{"t":47,"m1":8.1,"l1":6.0,"h1":10.3,"m2":13.1,"l2":9.7,"h2":17.3},
{"t":48,"m1":7.9,"l1":5.8,"h1":10.1,"m2":12.1,"l2":9.0,"h2":15.8},
{"t":49,"m1":7.6,"l1":5.5,"h1":9.8,"m2":10.4,"l2":8.0,"h2":13.7},
{"t":50,"m1":6.9,"l1":5.0,"h1":8.8,"m2":10.4,"l2":8.2,"h2":13.5},
{"t":51,"m1":7.4,"l1":5.3,"h1":9.6,"m2":11.6,"l2":9.2,"h2":14.8},
{"t":52,"m1":7.7,"l1":5.4,"h1":10.1,"m2":12.4,"l2":9.8,"h2":15.9},
{"t":53,"m1":7.9,"l1":5.5,"h1":10.5,"m2":13.0,"l2":10.2,"h2":16.8},
{"t":54,"m1":9.5,"l1":6.8,"h1":12.3,"m2":13.8,"l2":10.8,"h2":17.7},
{"t":55,"m1":10.7,"l1":7.8,"h1":13.7,"m2":14.2,"l2":11.1,"h2":18.2},
{"t":56,"m1":11.7,"l1":8.6,"h1":14.9,"m2":14.6,"l2":11.4,"h2":18.7},
{"t":57,"m1":13.0,"l1":9.7,"h1":16.4,"m2":15.4,"l2":12.0,"h2":19.5},
{"t":58,"m1":13.9,"l1":10.5,"h1":17.4,"m2":16.4,"l2":12.9,"h2":20.5},
{"t":59,"m1":15.2,"l1":11.6,"h1":18.9,"m2":17.3,"l2":13.7,"h2":21.5},
{"t":60,"m1":16.9,"l1":13.1,"h1":20.8,"m2":18.1,"l2":14.4,"h2":22.4},
{"t":61,"m1":18.2,"l1":14.2,"h1":22.2,"m2":18.8,"l2":14.9,"h2":23.1},
{"t":62,"m1":18.8,"l1":14.7,"h1":23.0,"m2":19.3,"l2":15.2,"h2":23.6},
{"t":63,"m1":19.1,"l1":15.0,"h1":23.4,"m2":19.5,"l2":15.3,"h2":23.8},
{"t":64,"m1":19.2,"l1":15.1,"h1":23.5,"m2":19.6,"l2":15.3,"h2":23.9}
],
"cr": [
{"t":1,"m1":1.5,"l1":1.3,"h1":1.7,"m2":1.5,"l2":1.3,"h2":1.7},
{"t":2,"m1":1.5,"l1":1.25,"h1":1.75,"m2":1.6,"l2":1.3,"h2":1.9},
{"t":3,"m1":1.4,"l1":1.1,"h1":1.7,"m2":2.0,"l2":1.5,"h2":2.5},
{"t":4,"m1":1.5,"l1":1.1,"h1":1.9,"m2":2.5,"l2":1.9,"h2":3.1},
{"t":5,"m1":2.2,"l1":1.6,"h1":2.9,"m2":3.0,"l2":2.3,"h2":3.8},
{"t":6,"m1":3.5,"l1":2.6,"h1":4.5,"m2":4.2,"l2":3.2,"h2":5.3},
{"t":7,"m1":6.0,"l1":4.6,"h1":7.5,"m2":6.5,"l2":5.0,"h2":8.0},
{"t":8,"m1":8.5,"l1":6.5,"h1":10.5,"m2":8.8,"l2":6.8,"h2":10.8},
{"t":9,"m1":8.5,"l1":6.3,"h1":10.8,"m2":10.5,"l2":8.0,"h2":13.0},
{"t":10,"m1":8.3,"l1":6.0,"h1":10.6,"m2":11.8,"l2":9.0,"h2":14.8},
{"t":11,"m1":8.8,"l1":6.5,"h1":11.1,"m2":13.0,"l2":10.0,"h2":16.3},
{"t":12,"m1":7.8,"l1":5.7,"h1":10.0,"m2":14.2,"l2":10.8,"h2":17.8},
{"t":13,"m1":7.9,"l1":5.8,"h1":10.1,"m2":14.7,"l2":11.2,"h2":18.3},
{"t":14,"m1":8.5,"l1":6.2,"h1":11.0,"m2":14.6,"l2":11.2,"h2":18.2},
{"t":15,"m1":9.5,"l1":7.0,"h1":12.3,"m2":13.8,"l2":10.6,"h2":17.2},
{"t":16,"m1":11.8,"l1":9.0,"h1":14.6,"m2":12.0,"l2":9.2,"h2":15.0},
{"t":17,"m1":12.1,"l1":9.4,"h1":14.9,"m2":10.8,"l2":8.2,"h2":13.6},
{"t":18,"m1":12.1,"l1":9.4,"h1":14.9,"m2":10.0,"l2":7.6,"h2":12.6},
{"t":19,"m1":12.0,"l1":9.3,"h1":14.9,"m2":9.9,"l2":7.5,"h2":12.5},
{"t":20,"m1":11.8,"l1":9.2,"h1":14.6,"m2":10.1,"l2":7.6,"h2":12.8},
{"t":21,"m1":9.8,"l1":7.5,"h1":12.2,"m2":13.0,"l2":10.0,"h2":16.2},
{"t":22,"m1":8.8,"l1":6.6,"h1":11.2,"m2":16.2,"l2":12.5,"h2":19.8},
{"t":23,"m1":9.0,"l1":6.8,"h1":11.4,"m2":15.8,"l2":12.2,"h2":19.6},
{"t":24,"m1":8.9,"l1":6.7,"h1":11.3,"m2":14.8,"l2":11.4,"h2":18.5},
{"t":25,"m1":10.0,"l1":7.6,"h1":12.6,"m2":14.0,"l2":10.8,"h2":17.5},
{"t":26,"m1":11.5,"l1":8.8,"h1":14.3,"m2":13.0,"l2":10.0,"h2":16.3},
{"t":27,"m1":11.6,"l1":8.8,"h1":14.6,"m2":12.5,"l2":9.5,"h2":15.8},
{"t":28,"m1":12.2,"l1":9.2,"h1":15.5,"m2":10.5,"l2":7.8,"h2":13.5},
{"t":29,"m1":13.5,"l1":10.0,"h1":17.2,"m2":8.8,"l2":6.3,"h2":11.6},
{"t":30,"m1":15.0,"l1":10.9,"h1":19.5,"m2":8.8,"l2":6.2,"h2":11.8},
{"t":31,"m1":12.3,"l1":8.2,"h1":16.7,"m2":10.5,"l2":7.2,"h2":14.2},
{"t":32,"m1":11.8,"l1":7.8,"h1":16.3,"m2":13.5,"l2":9.2,"h2":18.2},
{"t":33,"m1":13.5,"l1":9.0,"h1":18.5,"m2":15.2,"l2":10.2,"h2":20.8},
{"t":34,"m1":15.5,"l1":10.5,"h1":21.0,"m2":16.2,"l2":10.5,"h2":22.8},
{"t":35,"m1":16.8,"l1":11.5,"h1":23.0,"m2":16.7,"l2":10.5,"h2":24.0},
{"t":36,"m1":17.5,"l1":12.0,"h1":24.5,"m2":15.8,"l2":9.5,"h2":23.5},
{"t":37,"m1":16.2,"l1":11.0,"h1":22.5,"m2":14.0,"l2":8.0,"h2":22.0},
{"t":38,"m1":15.5,"l1":10.5,"h1":21.5,"m2":12.8,"l2":7.0,"h2":21.0},
{"t":39,"m1":14.3,"l1":9.5,"h1":20.0,"m2":13.5,"l2":7.0,"h2":22.5},
{"t":40,"m1":12.3,"l1":8.0,"h1":17.8,"m2":14.8,"l2":7.0,"h2":24.5},
{"t":41,"m1":12.5,"l1":8.0,"h1":18.5,"m2":13.0,"l2":5.0,"h2":23.5},
{"t":42,"m1":12.7,"l1":8.0,"h1":19.0,"m2":14.2,"l2":5.5,"h2":25.0},
{"t":43,"m1":12.9,"l1":8.0,"h1":19.0,"m2":15.8,"l2":6.0,"h2":27.5},
{"t":44,"m1":12.8,"l1":7.8,"h1":18.8,"m2":15.8,"l2":6.5,"h2":27.5},
{"t":45,"m1":12.6,"l1":7.6,"h1":18.6,"m2":15.8,"l2":7.0,"h2":27.0},
{"t":46,"m1":15.5,"l1":9.0,"h1":22.5,"m2":15.7,"l2":8.0,"h2":24.5},
{"t":47,"m1":15.2,"l1":8.5,"h1":22.5,"m2":16.5,"l2":10.0,"h2":25.5},
{"t":48,"m1":16.8,"l1":9.0,"h1":25.0,"m2":22.0,"l2":12.0,"h2":30.0},
{"t":49,"m1":16.2,"l1":8.0,"h1":25.0,"m2":23.3,"l2":10.0,"h2":35.0},
{"t":50,"m1":15.8,"l1":7.0,"h1":26.0,"m2":21.0,"l2":6.0,"h2":39.0},
{"t":51,"m1":19.0,"l1":8.0,"h1":32.0,"m2":13.5,"l2":5.5,"h2":24.0},
{"t":52,"m1":19.6,"l1":6.5,"h1":34.0,"m2":13.5,"l2":4.5,"h2":24.0},
{"t":53,"m1":20.5,"l1":5.0,"h1":37.0,"m2":11.0,"l2":2.5,"h2":22.0},
{"t":54,"m1":20.2,"l1":4.0,"h1":39.0,"m2":9.2,"l2":2.0,"h2":18.0},
{"t":55,"m1":17.5,"l1":2.5,"h1":37.0,"m2":9.2,"l2":3.0,"h2":17.0},
{"t":56,"m1":13.3,"l1":1.0,"h1":27.0,"m2":11.2,"l2":3.5,"h2":21.0},
{"t":57,"m1":15.0,"l1":2.0,"h1":26.0,"m2":11.2,"l2":3.0,"h2":22.0},
{"t":58,"m1":19.0,"l1":5.0,"h1":33.0,"m2":14.5,"l2":4.0,"h2":27.0},
{"t":59,"m1":22.5,"l1":9.0,"h1":37.0,"m2":17.0,"l2":5.0,"h2":31.0},
{"t":60,"m1":26.0,"l1":11.5,"h1":41.0,"m2":17.5,"l2":6.0,"h2":33.0},
{"t":61,"m1":28.9,"l1":13.0,"h1":43.0,"m2":18.0,"l2":7.5,"h2":34.5},
{"t":62,"m1":28.8,"l1":14.0,"h1":42.5,"m2":19.2,"l2":9.0,"h2":36.0},
{"t":63,"m1":27.0,"l1":14.5,"h1":37.0,"m2":24.0,"l2":12.0,"h2":38.0},
{"t":64,"m1":24.2,"l1":14.5,"h1":33.0,"m2":24.0,"l2":18.0,"h2":32.0}
]
},
"columns": 3,
"spacing": {"row": 27, "column": 34},
"bounds": "flush",
"concat": [
{"data": {"name": "ai"}, "title": "Adult", "width": 287, "height": 158,
 "encoding": {"x": {"field": "t", "type": "quantitative", "scale": {"domain": [-2.15, 67.15], "nice": false}, "axis": {"values": [0, 10, 20, 30, 40, 50, 60], "title": null}}},
 "layer": [
  {"mark": {"type": "area", "color": "#1f77b4", "opacity": 0.2}, "encoding": {"y": {"field": "l1", "type": "quantitative", "scale": {"zero": false, "nice": false, "padding": 7}, "axis": {"title": "Insulin (u/hr)", "tickCount": 6}}, "y2": {"field": "h1"}}},
  {"mark": {"type": "area", "color": "#ff7f0e", "opacity": 0.2}, "encoding": {"y": {"field": "l2", "type": "quantitative"}, "y2": {"field": "h2"}}},
  {"mark": {"type": "line", "strokeWidth": 1.5}, "encoding": {"y": {"field": "m1", "type": "quantitative"}, "color": {"datum": "w/ prior + CoT", "type": "nominal", "scale": {"domain": ["w/ prior + CoT", "w/ prior"], "range": ["#1f77b4", "#ff7f0e"]}, "legend": {"title": "Prompt Method"}}}},
  {"mark": {"type": "line", "strokeWidth": 1.5}, "encoding": {"y": {"field": "m2", "type": "quantitative"}, "color": {"datum": "w/ prior", "type": "nominal"}}}
 ]},
{"data": {"name": "di"}, "title": "Adolescent", "width": 287, "height": 158,
 "encoding": {"x": {"field": "t", "type": "quantitative", "scale": {"domain": [-2.15, 67.15], "nice": false}, "axis": {"values": [0, 10, 20, 30, 40, 50, 60], "title": null}}},
 "layer": [
  {"mark": {"type": "area", "color": "#1f77b4", "opacity": 0.2}, "encoding": {"y": {"field": "l1", "type": "quantitative", "scale": {"zero": false, "nice": false, "padding": 7}, "axis": {"title": null, "tickCount": 6}}, "y2": {"field": "h1"}}},
  {"mark": {"type": "area", "color": "#ff7f0e", "opacity": 0.2}, "encoding": {"y": {"field": "l2", "type": "quantitative"}, "y2": {"field": "h2"}}},
  {"mark": {"type": "line", "strokeWidth": 1.5}, "encoding": {"y": {"field": "m1", "type": "quantitative"}, "color": {"datum": "w/ prior + CoT", "type": "nominal"}}},
  {"mark": {"type": "line", "strokeWidth": 1.5}, "encoding": {"y": {"field": "m2", "type": "quantitative"}, "color": {"datum": "w/ prior", "type": "nominal"}}}
 ]},
{"data": {"name": "ci"}, "title": "Child", "width": 287, "height": 158,
 "encoding": {"x": {"field": "t", "type": "quantitative", "scale": {"domain": [-2.15, 67.15], "nice": false}, "axis": {"values": [0, 10, 20, 30, 40, 50, 60], "title": null}}},
 "layer": [
  {"mark": {"type": "area", "color": "#1f77b4", "opacity": 0.2}, "encoding": {"y": {"field": "l1", "type": "quantitative", "scale": {"zero": false, "nice": false, "padding": 7}, "axis": {"title": null, "tickCount": 6}}, "y2": {"field": "h1"}}},
  {"mark": {"type": "area", "color": "#ff7f0e", "opacity": 0.2}, "encoding": {"y": {"field": "l2", "type": "quantitative"}, "y2": {"field": "h2"}}},
  {"mark": {"type": "line", "strokeWidth": 1.5}, "encoding": {"y": {"field": "m1", "type": "quantitative"}, "color": {"datum": "w/ prior + CoT", "type": "nominal"}}},
  {"mark": {"type": "line", "strokeWidth": 1.5}, "encoding": {"y": {"field": "m2", "type": "quantitative"}, "color": {"datum": "w/ prior", "type": "nominal"}}}
 ]},
{"data": {"name": "ab"}, "width": 287, "height": 158,
 "encoding": {"x": {"field": "t", "type": "quantitative", "scale": {"domain": [-2.15, 67.15], "nice": false}, "axis": {"values": [0, 10, 20, 30, 40, 50, 60], "title": null}}},
 "layer": [
  {"mark": {"type": "area", "color": "#1f77b4", "opacity": 0.2}, "encoding": {"y": {"field": "l1", "type": "quantitative", "scale": {"zero": false, "nice": false, "padding": 7}, "axis": {"title": "Blood Glucose (mg/dL)", "tickCount": 6}}, "y2": {"field": "h1"}}},
  {"mark": {"type": "area", "color": "#ff7f0e", "opacity": 0.2}, "encoding": {"y": {"field": "l2", "type": "quantitative"}, "y2": {"field": "h2"}}},
  {"mark": {"type": "line", "strokeWidth": 1.5}, "encoding": {"y": {"field": "m1", "type": "quantitative"}, "color": {"datum": "w/ prior + CoT", "type": "nominal"}}},
  {"mark": {"type": "line", "strokeWidth": 1.5}, "encoding": {"y": {"field": "m2", "type": "quantitative"}, "color": {"datum": "w/ prior", "type": "nominal"}}}
 ]},
{"data": {"name": "db"}, "width": 287, "height": 158,
 "encoding": {"x": {"field": "t", "type": "quantitative", "scale": {"domain": [-2.15, 67.15], "nice": false}, "axis": {"values": [0, 10, 20, 30, 40, 50, 60], "title": null}}},
 "layer": [
  {"mark": {"type": "area", "color": "#1f77b4", "opacity": 0.2}, "encoding": {"y": {"field": "l1", "type": "quantitative", "scale": {"zero": false, "nice": false, "padding": 7}, "axis": {"title": null, "tickCount": 6}}, "y2": {"field": "h1"}}},
  {"mark": {"type": "area", "color": "#ff7f0e", "opacity": 0.2}, "encoding": {"y": {"field": "l2", "type": "quantitative"}, "y2": {"field": "h2"}}},
  {"mark": {"type": "line", "strokeWidth": 1.5}, "encoding": {"y": {"field": "m1", "type": "quantitative"}, "color": {"datum": "w/ prior + CoT", "type": "nominal"}}},
  {"mark": {"type": "line", "strokeWidth": 1.5}, "encoding": {"y": {"field": "m2", "type": "quantitative"}, "color": {"datum": "w/ prior", "type": "nominal"}}}
 ]},
{"data": {"name": "cb"}, "width": 287, "height": 158,
 "encoding": {"x": {"field": "t", "type": "quantitative", "scale": {"domain": [-2.15, 67.15], "nice": false}, "axis": {"values": [0, 10, 20, 30, 40, 50, 60], "title": null}}},
 "layer": [
  {"mark": {"type": "area", "color": "#1f77b4", "opacity": 0.2}, "encoding": {"y": {"field": "l1", "type": "quantitative", "scale": {"zero": false, "nice": false, "padding": 7}, "axis": {"title": null, "tickCount": 6}}, "y2": {"field": "h1"}}},
  {"mark": {"type": "area", "color": "#ff7f0e", "opacity": 0.2}, "encoding": {"y": {"field": "l2", "type": "quantitative"}, "y2": {"field": "h2"}}},
  {"mark": {"type": "line", "strokeWidth": 1.5}, "encoding": {"y": {"field": "m1", "type": "quantitative"}, "color": {"datum": "w/ prior + CoT", "type": "nominal"}}},
  {"mark": {"type": "line", "strokeWidth": 1.5}, "encoding": {"y": {"field": "m2", "type": "quantitative"}, "color": {"datum": "w/ prior", "type": "nominal"}}}
 ]},
{"data": {"name": "ar"}, "width": 287, "height": 158,
 "encoding": {"x": {"field": "t", "type": "quantitative", "scale": {"domain": [-2.15, 67.15], "nice": false}, "axis": {"values": [0, 10, 20, 30, 40, 50, 60], "title": "Elapsed Time (15-min)"}}},
 "layer": [
  {"mark": {"type": "area", "color": "#1f77b4", "opacity": 0.2}, "encoding": {"y": {"field": "l1", "type": "quantitative", "scale": {"zero": false, "nice": false, "padding": 7}, "axis": {"title": "Risk Index", "tickCount": 6}}, "y2": {"field": "h1"}}},
  {"mark": {"type": "area", "color": "#ff7f0e", "opacity": 0.2}, "encoding": {"y": {"field": "l2", "type": "quantitative"}, "y2": {"field": "h2"}}},
  {"mark": {"type": "line", "strokeWidth": 1.5}, "encoding": {"y": {"field": "m1", "type": "quantitative"}, "color": {"datum": "w/ prior + CoT", "type": "nominal"}}},
  {"mark": {"type": "line", "strokeWidth": 1.5}, "encoding": {"y": {"field": "m2", "type": "quantitative"}, "color": {"datum": "w/ prior", "type": "nominal"}}}
 ]},
{"data": {"name": "dr"}, "width": 287, "height": 158,
 "encoding": {"x": {"field": "t", "type": "quantitative", "scale": {"domain": [-2.15, 67.15], "nice": false}, "axis": {"values": [0, 10, 20, 30, 40, 50, 60], "title": "Elapsed Time (15-min)"}}},
 "layer": [
  {"mark": {"type": "area", "color": "#1f77b4", "opacity": 0.2}, "encoding": {"y": {"field": "l1", "type": "quantitative", "scale": {"zero": false, "nice": false, "padding": 7}, "axis": {"title": null, "tickCount": 6}}, "y2": {"field": "h1"}}},
  {"mark": {"type": "area", "color": "#ff7f0e", "opacity": 0.2}, "encoding": {"y": {"field": "l2", "type": "quantitative"}, "y2": {"field": "h2"}}},
  {"mark": {"type": "line", "strokeWidth": 1.5}, "encoding": {"y": {"field": "m1", "type": "quantitative"}, "color": {"datum": "w/ prior + CoT", "type": "nominal"}}},
  {"mark": {"type": "line", "strokeWidth": 1.5}, "encoding": {"y": {"field": "m2", "type": "quantitative"}, "color": {"datum": "w/ prior", "type": "nominal"}}}
 ]},
{"data": {"name": "cr"}, "width": 287, "height": 158,
 "encoding": {"x": {"field": "t", "type": "quantitative", "scale": {"domain": [-2.15, 67.15], "nice": false}, "axis": {"values": [0, 10, 20, 30, 40, 50, 60], "title": "Elapsed Time (15-min)"}}},
 "layer": [
  {"mark": {"type": "area", "color": "#1f77b4", "opacity": 0.2}, "encoding": {"y": {"field": "l1", "type": "quantitative", "scale": {"zero": false, "nice": false, "padding": 7}, "axis": {"title": null, "tickCount": 6}}, "y2": {"field": "h1"}}},
  {"mark": {"type": "area", "color": "#ff7f0e", "opacity": 0.2}, "encoding": {"y": {"field": "l2", "type": "quantitative"}, "y2": {"field": "h2"}}},
  {"mark": {"type": "line", "strokeWidth": 1.5}, "encoding": {"y": {"field": "m1", "type": "quantitative"}, "color": {"datum": "w/ prior + CoT", "type": "nominal"}}},
  {"mark": {"type": "line", "strokeWidth": 1.5}, "encoding": {"y": {"field": "m2", "type": "quantitative"}, "color": {"datum": "w/ prior", "type": "nominal"}}}
 ]}
]
}
